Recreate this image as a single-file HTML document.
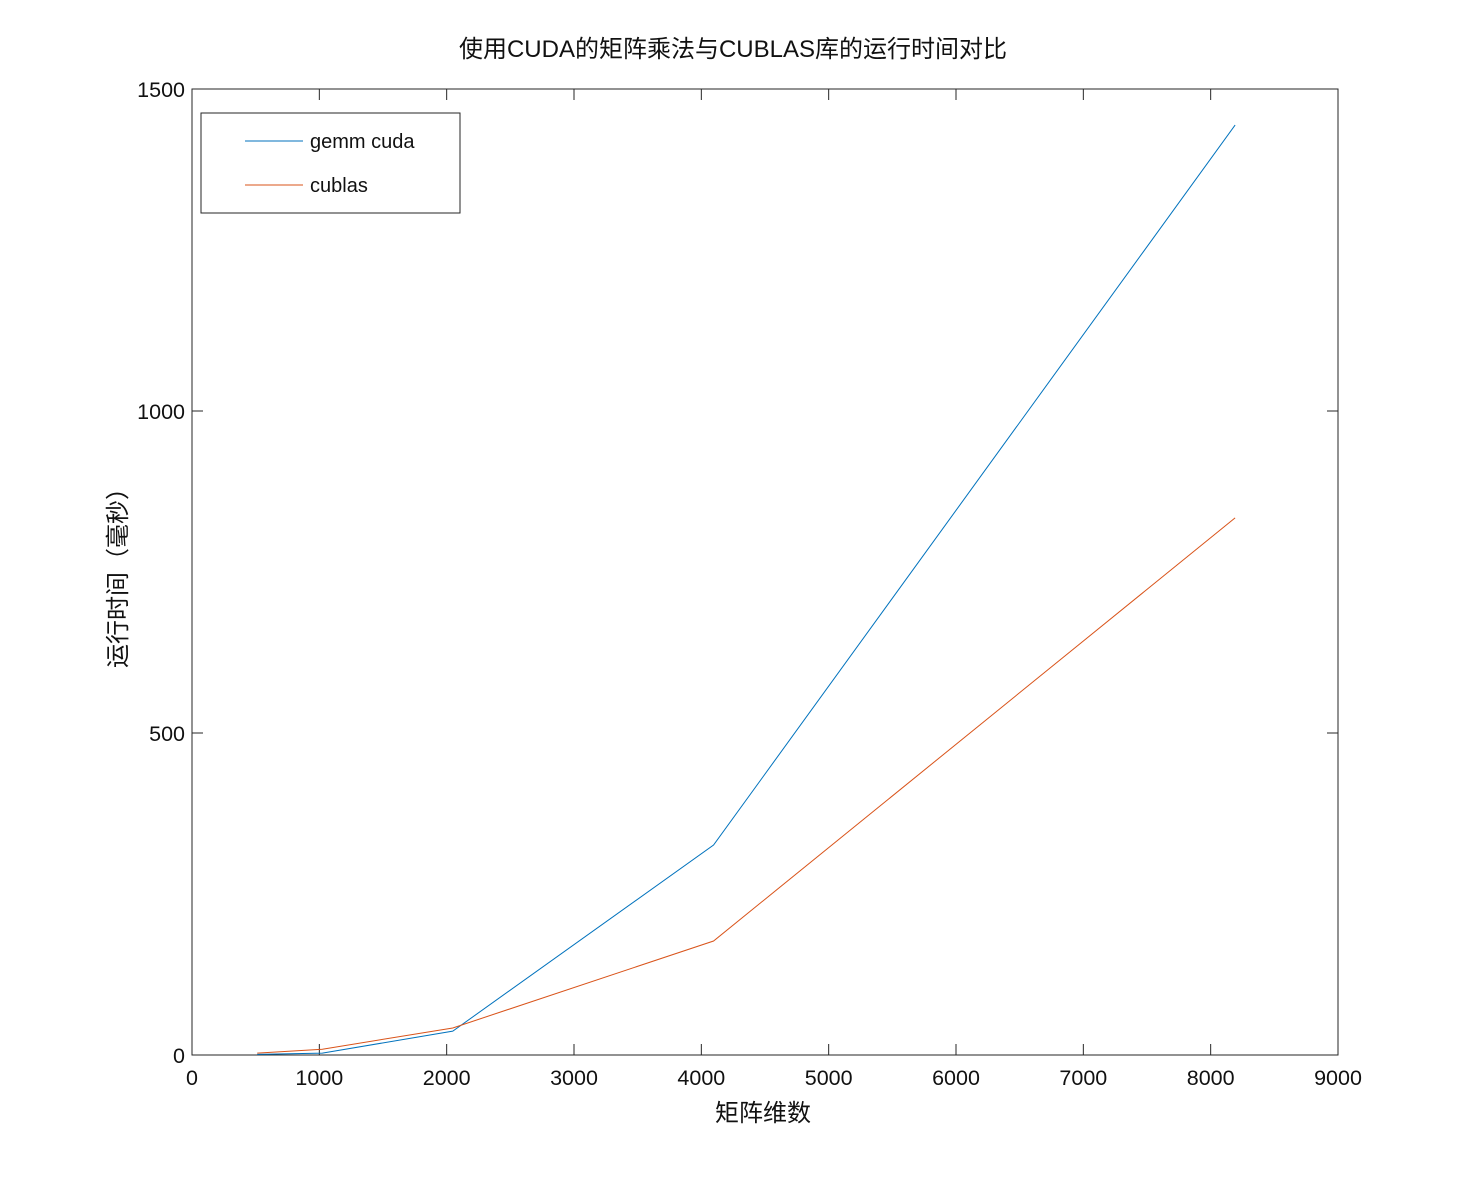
<!DOCTYPE html>
<html><head><meta charset="utf-8"><style>
body{margin:0;background:#fff;}
svg text{font-family:"Liberation Sans","Noto Sans CJK SC",sans-serif;fill:#111;}
</style></head><body>
<svg id="c" width="1478" height="1186" xmlns="http://www.w3.org/2000/svg"></svg>
<script>
const categories=[512,1024,2048,4096,8192];
const gemmValues=[1,3,37,326,1444];
const cublasValues=[3,9,42,177,834];
const xTicks=[0,1000,2000,3000,4000,5000,6000,7000,8000,9000];
const yTicks=[0,500,1000,1500];
const L=192,R=1338,T=89,B=1055;
const xs=v=>L+(v/9000)*(R-L);
const ys=v=>B-(v/1500)*(B-T);
const svg=document.getElementById('c');
const NS='http://www.w3.org/2000/svg';
function mk(tag,attrs,txt){const e=document.createElementNS(NS,tag);for(const k in attrs)e.setAttribute(k,attrs[k]);if(txt!==undefined)e.textContent=txt;svg.appendChild(e);return e;}
let e;
e=mk('rect',{x:L,y:T,width:R-L,height:B-T,fill:'#fff',stroke:'#262626','stroke-width':1});


xTicks.forEach(t=>{
 const x=xs(t);
 e=mk('line',{x1:x,y1:B,x2:x,y2:B-11,stroke:'#262626'});
 
 
 e=mk('line',{x1:x,y1:T,x2:x,y2:T+11,stroke:'#262626'});
 
 
 e=mk('text',{x:x,y:B+30,'text-anchor':'middle','font-size':21.5},String(t));
 
 
});
yTicks.forEach(t=>{
 const y=ys(t);
 e=mk('line',{x1:L,y1:y,x2:L+11,y2:y,stroke:'#262626'});
 
 
 e=mk('line',{x1:R,y1:y,x2:R-11,y2:y,stroke:'#262626'});
 
 
 e=mk('text',{x:L-7,y:y+8,'text-anchor':'end','font-size':21.5},String(t));
 
 
});
function line(vals,color,name){
 const p=vals.map((v,i)=>xs(categories[i])+','+ys(v)).join(' ');
 e=mk('polyline',{points:p,fill:'none',stroke:color,'stroke-width':1});
 
 
}
line(gemmValues,'#0072BD','gemm-cuda-line');
line(cublasValues,'#D95319','cublas-line');
e=mk('text',{x:733,y:57,'text-anchor':'middle','font-size':24},'使用CUDA的矩阵乘法与CUBLAS库的运行时间对比');


e=mk('text',{x:763,y:1121,'text-anchor':'middle','font-size':24},'矩阵维数');


e=mk('text',{x:0,y:0,'text-anchor':'middle','font-size':24,transform:'translate(126,572) rotate(-90)'},'运行时间（毫秒）');


e=mk('rect',{x:201,y:113,width:259,height:100,fill:'#fff',stroke:'#262626'});


e=mk('line',{x1:245,y1:141,x2:303,y2:141,stroke:'#0072BD'});


e=mk('text',{x:310,y:148,'font-size':20},'gemm cuda');


e=mk('line',{x1:245,y1:185,x2:303,y2:185,stroke:'#D95319'});


e=mk('text',{x:310,y:192,'font-size':20},'cublas');


</script>
</body></html>
